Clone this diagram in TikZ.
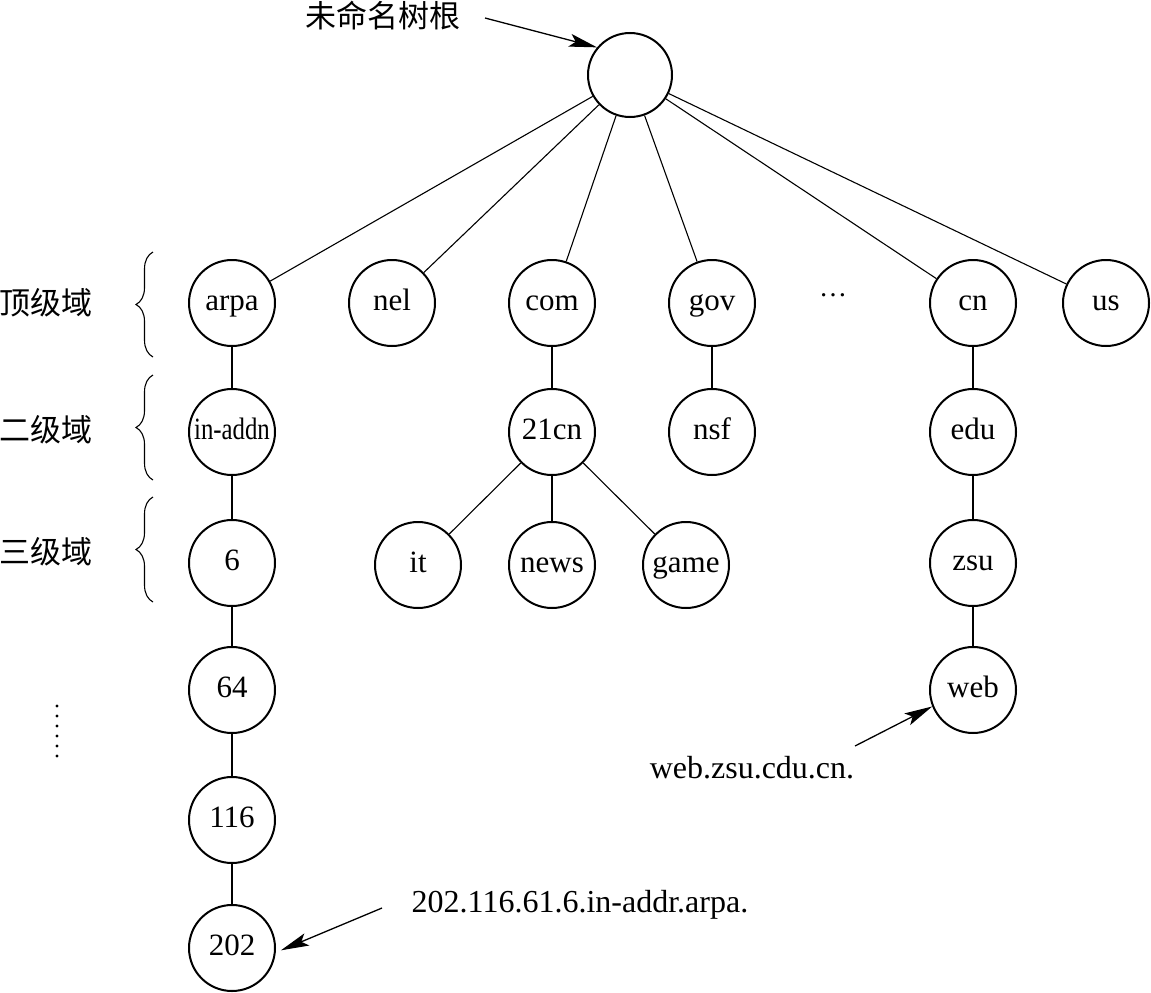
\documentclass[tikz,border=0pt]{standalone}
\usepackage{fontspec}
\setmainfont{Liberation Serif}
\newfontfamily\cjk{Noto Sans CJK SC}
\usetikzlibrary{arrows.meta,decorations.pathreplacing}
\begin{document}
\begin{tikzpicture}[x=1pt,y=-1pt,
  dn/.style={circle,draw,line width=2pt,minimum size=86pt,inner sep=0pt,
    font=\fontsize{31}{36}\selectfont,text height=20pt,text depth=5pt},
  edge/.style={line width=1.1pt},
  arr/.style={line width=1.3pt,-{Stealth[length=28pt,width=13pt,inset=6pt]}},
  lbl/.style={font=\fontsize{32}{38}\selectfont,inner sep=0pt},
  cl/.style={font=\cjk\fontsize{31}{36}\selectfont,inner sep=0pt},
  br/.style={line width=1.1pt,decorate,decoration={brace,amplitude=17pt}}]
\useasboundingbox (0,0) rectangle (1151,993);
% root
\node[dn,minimum size=84pt] (root) at (630,75) {};
% level 1
\node[dn] (arpa) at (232,303) {arpa};
\node[dn] (nel) at (392,303) {nel};
\node[dn] (com) at (552,303) {com};
\node[dn] (gov) at (712,303) {gov};
\node[lbl,font=\fontsize{28}{34}\selectfont] (dots) at (833,295) {…};
\node[dn] (cn) at (973,303) {cn};
\node[dn] (us) at (1106,303) {us};
% level 2
\node[dn] (inaddn) at (232,432) {\scalebox{0.8}[1]{in-addn}};
\node[dn] (c21) at (552,432) {21cn};
\node[dn] (nsf) at (712,432) {nsf};
\node[dn] (edu) at (973,432) {edu};
% level 3
\node[dn] (six) at (232,563) {6};
\node[dn] (it) at (418,565) {it};
\node[dn] (news) at (552,565) {news};
\node[dn] (game) at (686,565) {game};
\node[dn] (zsu) at (973,563) {zsu};
% deeper
\node[dn] (n64) at (232,690) {64};
\node[dn] (web) at (973,690) {web};
\node[dn] (n116) at (232,820) {116};
\node[dn] (n202) at (232,948) {202};
% edges
\foreach \t in {arpa,nel,com,gov,cn,us} \draw[edge] (root) -- (\t);
\draw[edge] (arpa) -- (inaddn);
\draw[edge] (inaddn) -- (six);
\draw[edge] (six) -- (n64);
\draw[edge] (n64) -- (n116);
\draw[edge] (n116) -- (n202);
\draw[edge] (com) -- (c21);
\draw[edge] (gov) -- (nsf);
\draw[edge] (cn) -- (edu);
\draw[edge] (edu) -- (zsu);
\draw[edge] (zsu) -- (web);
\foreach \t in {it,news,game} \draw[edge] (c21) -- (\t);
% labels
\node[cl] (rootlbl) at (383,16) {未命名树根};
\coordinate (rootsrc) at (485,18);
\draw[arr] (rootsrc) -- (root.140);
\node[lbl] (weblbl) at (752,768) {web.zsu.cdu.cn.};
\coordinate (websrc) at (855,746);
\draw[arr] (websrc) -- (web.202);
\node[lbl] (arpalbl) at (580,905) {202.116.61.6.in-addr.arpa.};
\coordinate (arpasrc) at (382,908);
\draw[arr] (arpasrc) -- ([xshift=5pt]n202.-3);
% level names
\node[cl] (l1) at (46,303) {顶级域};
\node[cl] (l2) at (46,430) {二级域};
\node[cl] (l3) at (46,552) {三级域};
\draw[br] (153,357) -- (153,252);
\draw[br] (153,480) -- (153,375);
\draw[br] (153,602) -- (153,497);
% vertical dots
\foreach \y in {706,716,...,756} \fill (57,\y) circle (1.7pt);
\end{tikzpicture}
\end{document}
